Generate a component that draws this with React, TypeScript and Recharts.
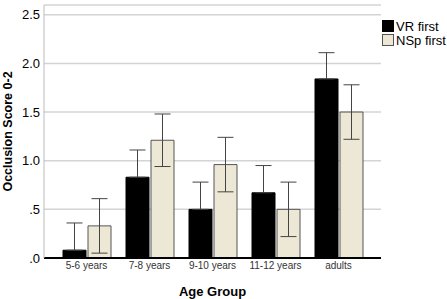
import { BarChart, Bar, XAxis, YAxis, CartesianGrid, ErrorBar } from 'recharts';

const categories = ['5-6 years', '7-8 years', '9-10 years', '11-12 years', 'adults'];
const vrFirst = [0.08, 0.83, 0.5, 0.67, 1.84];
const vrError = [0.28, 0.28, 0.28, 0.28, 0.27];
const nspFirst = [0.33, 1.21, 0.96, 0.5, 1.5];
const nspError = [0.28, 0.27, 0.28, 0.28, 0.28];
const yTicks = [0, 0.5, 1, 1.5, 2, 2.5];
const yTickLabels = ['.0', '.5', '1.0', '1.5', '2.0', '2.5'];

// the lower whisker of the black bars can't be seen inside the bar, so only the upper one is drawn
const data = categories.map((group, i) => ({
  group,
  vr: vrFirst[i],
  vrErr: [0, vrError[i]],
  nsp: nspFirst[i],
  nspErr: nspError[i],
}));

const FONT = '"Liberation Sans", Arial, sans-serif';
const BEIGE = '#ede8d6';

function LegendBox() {
  const items = [
    { label: 'VR first', fill: '#000', stroke: '#000' },
    { label: 'NSp first', fill: BEIGE, stroke: '#555' },
  ];
  return (
    <div style={{ position: 'absolute', left: 382, top: 19, fontFamily: FONT, fontSize: 13, color: '#000' }}>
      {items.map((it) => (
        <div key={it.label} style={{ display: 'flex', alignItems: 'center', height: 14 }}>
          <span
            style={{
              display: 'inline-block',
              width: 10,
              height: 10,
              background: it.fill,
              border: `1px solid ${it.stroke}`,
              marginRight: 2,
            }}
          />
          {it.label}
        </div>
      ))}
    </div>
  );
}

export default function App() {
  return (
    <div style={{ position: 'absolute', left: 0, top: 0, width: 447, height: 299, background: '#fff' }}>
      <BarChart
        width={447}
        height={299}
        data={data}
        margin={{ top: 5, right: 66, bottom: 0, left: 0 }}
        barSize={23}
        barGap={2}
        style={{ fontFamily: FONT }}
      >
        <CartesianGrid vertical={false} stroke="#d4d4d4" strokeWidth={1.5} />
        <XAxis
          dataKey="group"
          height={41}
          padding={{ left: 11, right: 11 }}
          tickLine={false}
          tickSize={2}
          tickMargin={2}
          axisLine={{ stroke: '#000', strokeWidth: 2 }}
          tick={{ fontSize: 10, fill: '#333' }}
          interval={0}
          label={{ value: 'Age Group', position: 'insideBottom', offset: 3, fontSize: 13, fontWeight: 'bold', fill: '#000' }}
        />
        <YAxis
          width={44}
          domain={[0, 2.6]}
          ticks={yTicks}
          tickFormatter={(v: number) => yTickLabels[yTicks.indexOf(v)]}
          tickLine={false}
          tickSize={2}
          tickMargin={2}
          axisLine={{ stroke: '#bbb' }}
          tick={{ fontSize: 13, fill: '#000' }}
          label={{
            value: 'Occlusion Score 0-2',
            angle: -90,
            position: 'insideLeft',
            offset: 8,
            fontSize: 12.5,
            fontWeight: 'bold',
            fill: '#000',
            style: { textAnchor: 'middle' },
          }}
        />
        <Bar dataKey="vr" name="VR first" fill="#000" stroke="#000" isAnimationActive={false}>
          <ErrorBar dataKey="vrErr" width={8} stroke="#444" strokeWidth={1} />
        </Bar>
        <Bar dataKey="nsp" name="NSp first" fill={BEIGE} stroke="#555" strokeWidth={1} isAnimationActive={false}>
          <ErrorBar dataKey="nspErr" width={8} stroke="#444" strokeWidth={1} />
        </Bar>
      </BarChart>
      <LegendBox />
    </div>
  );
}
